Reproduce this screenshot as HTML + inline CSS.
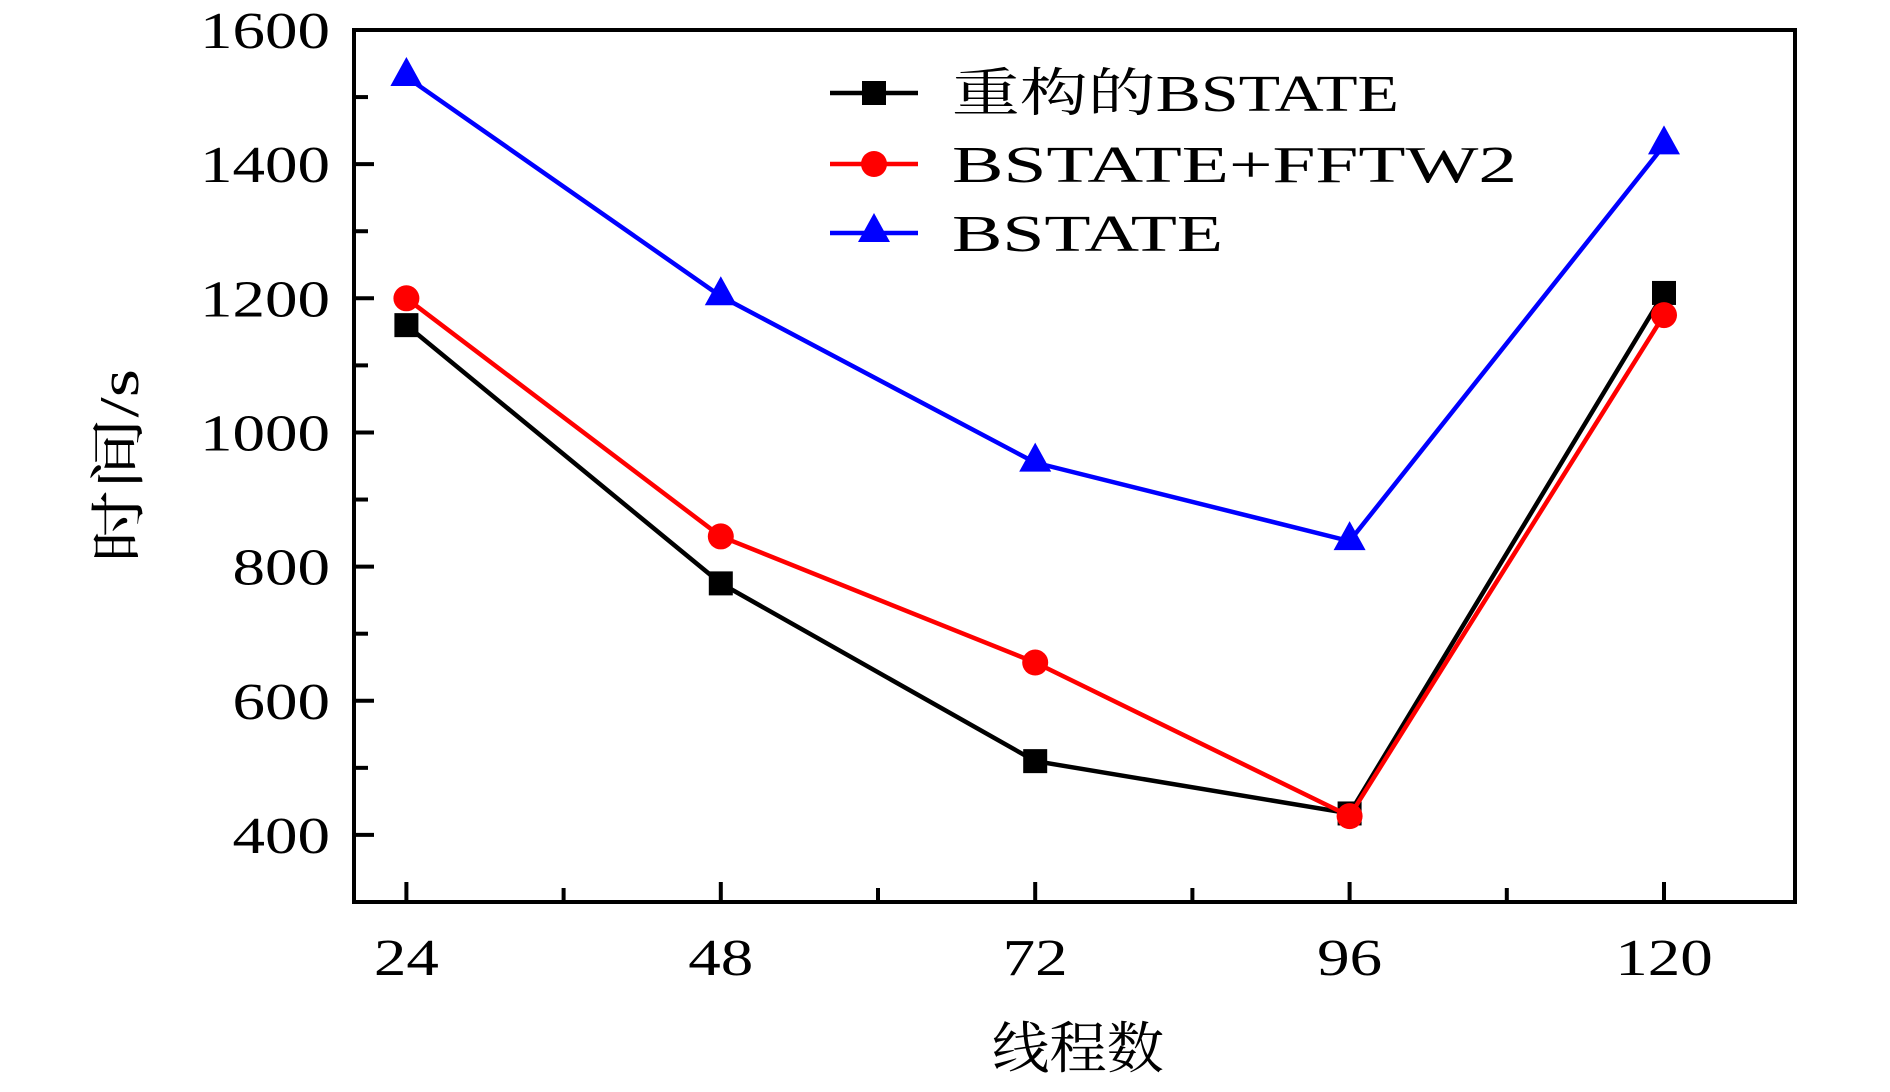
<!DOCTYPE html>
<html><head><meta charset="utf-8"><style>
html,body{margin:0;padding:0;background:#fff;}
svg text{font-family:"Liberation Serif","Noto Serif CJK SC",serif;fill:#000;}
</style></head><body>
<svg width="1890" height="1087" viewBox="0 0 1890 1087" xmlns="http://www.w3.org/2000/svg">
<g id="plot"></g>
</svg>
<script>
const categories = [24, 48, 72, 96, 120];
const seriesRebuilt = [1160, 775, 510, 432, 1208];
const seriesFFTW2 = [1200, 845, 657, 428, 1175];
const seriesBSTATE = [1530, 1203, 955, 838, 1428];
const yTickLabels = [400, 600, 800, 1000, 1200, 1400, 1600];
const xTickLabels = [24, 48, 72, 96, 120];

const L=354, R=1795, T=30, B=902;
const X0=20, X1=130, Y0=300, Y1=1600;
const sx = v => L + (v - X0) / (X1 - X0) * (R - L);
const sy = v => B - (v - Y0) / (Y1 - Y0) * (B - T);
const NS = "http://www.w3.org/2000/svg";
const g = document.getElementById('plot');
function mk(tag, attrs, parent) {
  const e = document.createElementNS(NS, tag);
  for (const k in attrs) e.setAttribute(k, attrs[k]);
  (parent || g).appendChild(e);
  return e;
}
const digitW = 32.5;

for (let v = 400; v <= 1600; v += 100) {
  const major = v % 200 === 0;
  const t = mk('line', {x1: L, x2: L + (major ? 20 : 14), y1: sy(v), y2: sy(v), stroke: '#000', 'stroke-width': 4});
  
  
}
yTickLabels.forEach(v => {
  const s = String(v);
  const t = mk('text', {x: 330, y: sy(v) + 18, 'text-anchor': 'end', 'font-size': 52, textLength: s.length * digitW, lengthAdjust: 'spacingAndGlyphs'});
  t.textContent = s;
  
  
});
for (let v = 24; v <= 120; v += 12) {
  const major = (v % 24 === 0);
  const t = mk('line', {x1: sx(v), x2: sx(v), y1: B, y2: B - (major ? 20 : 14), stroke: '#000', 'stroke-width': 4});
  
  
}
xTickLabels.forEach(v => {
  const s = String(v);
  const t = mk('text', {x: sx(v), y: 975, 'text-anchor': 'middle', 'font-size': 52, textLength: s.length * digitW, lengthAdjust: 'spacingAndGlyphs'});
  t.textContent = s;
  
  
});
const fr = mk('rect', {x: L, y: T, width: R - L, height: B - T, fill: 'none', stroke: '#000', 'stroke-width': 4});



function marker(type, x, y, color, parent) {
  let m;
  if (type === 'square') m = mk('rect', {x: x - 12, y: y - 12, width: 24, height: 24, fill: color}, parent);
  else if (type === 'circle') m = mk('circle', {cx: x, cy: y, r: 13, fill: color}, parent);
  else m = mk('polygon', {points: `${x},${y - 20} ${x - 16},${y + 9} ${x + 16},${y + 9}`, fill: color}, parent);
  return m;
}
function series(vals, color, type, name) {
  const grp = mk('g', {});
  
  
  const p = mk('polyline', {points: vals.map((v, i) => sx(categories[i]) + ',' + sy(v)).join(' '), fill: 'none', stroke: color, 'stroke-width': 4.5}, grp);
  
  
  vals.forEach((v, i) => {
    const m = marker(type, sx(categories[i]), sy(v), color, grp);
    
    
  });
}
series(seriesBSTATE, '#0000ff', 'tri', 'series-bstate');
series(seriesRebuilt, '#000000', 'square', 'series-rebuilt-bstate');
series(seriesFFTW2, '#ff0000', 'circle', 'series-bstate-fftw2');

const legend = mk('g', {});


const legItems = [['重构的BSTATE', '#000000', 'square', 93, 447], ['BSTATE+FFTW2', '#ff0000', 'circle', 164, 565], ['BSTATE', '#0000ff', 'tri', 233, 271]];
legItems.forEach(([lab, c, type, y, w]) => {
  const e = mk('g', {}, legend);
  
  
  mk('line', {x1: 830, x2: 918, y1: y, y2: y, stroke: c, 'stroke-width': 4.5}, e);
  marker(type, 874, y, c, e);
  const t = mk('text', {x: 952, y: y + 18, 'font-size': 52, textLength: w, lengthAdjust: 'spacingAndGlyphs'}, e);
  t.textContent = lab;
});

const xt = mk('text', {x: 1078, y: 1068, 'text-anchor': 'middle', 'font-size': 56, textLength: 172, lengthAdjust: 'spacingAndGlyphs'});
xt.textContent = '线程数';


const yt = mk('text', {x: 0, y: 0, 'text-anchor': 'middle', 'font-size': 56, textLength: 194, lengthAdjust: 'spacingAndGlyphs', transform: 'translate(138,466) rotate(-90)'});
yt.textContent = '时间/s';


</script>
</body></html>
